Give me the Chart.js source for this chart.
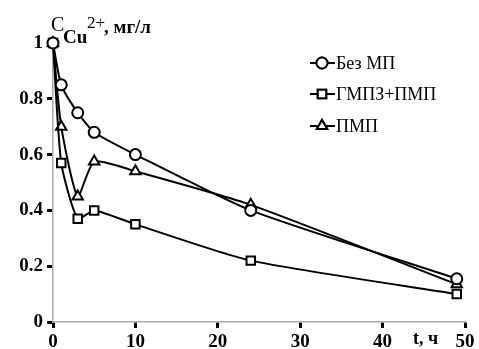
<!DOCTYPE html>
<html>
<head>
<meta charset="utf-8">
<script src="https://cdn.jsdelivr.net/npm/chart.js@4.4.0/dist/chart.umd.min.js"></script>
<style>
  html, body { margin: 0; padding: 0; background: #fff; }
  #wrap { width: 479px; height: 349px; }
</style>
</head>
<body>
<div id="wrap"><canvas id="chart"></canvas></div>
<script>
// time, h
const hours = [0, 1, 3, 5, 10, 24, 49];
// C Cu2+, mg/l
const bezMp = [1.0, 0.85, 0.75, 0.68, 0.60, 0.40, 0.155];
const gmpzPmp = [1.0, 0.57, 0.37, 0.40, 0.35, 0.22, 0.10];
const pmp = [1.0, 0.70, 0.45, 0.575, 0.54, 0.42, 0.135];
const seriesNames = ["Без МП", "ГМПЗ+ПМП", "ПМП"];
const markers = ["circle", "rect", "triangle"];
const yTickLabels = ["0", "0.2", "0.4", "0.6", "0.8", "1"];

const serif = "'Liberation Serif', 'DejaVu Serif', serif";

function toPoints(ys) {
  return hours.map((h, i) => ({ x: h, y: ys[i] }));
}

function makeSet(label, ys, style, radius) {
  return {
    label: label,
    data: toPoints(ys),
    borderColor: "#000",
    borderWidth: 2,
    backgroundColor: "#fff",
    pointStyle: style,
    pointRadius: radius,
    pointBorderWidth: 2,
    pointBorderColor: "#000",
    pointBackgroundColor: "#fff",
    tension: 0.2,
    clip: false,
  };
}

// own legend + axis titles
const extras = {
  id: "extras",
  afterDraw(chart) {
    const ctx = chart.ctx;
    ctx.save();
    ctx.fillStyle = "#000";
    ctx.textBaseline = "alphabetic";

    // y title: C Cu 2+, мг/л
    ctx.font = "20px " + serif;
    ctx.fillText("C", 51, 31);
    ctx.font = "bold 19px " + serif;
    ctx.fillText("Cu", 63, 43);
    ctx.font = "17px " + serif;
    ctx.fillText("2+", 87, 28);
    ctx.font = "bold 19px " + serif;
    ctx.fillText(", мг/л", 104, 33);

    // x title
    ctx.font = "bold 18px " + serif;
    ctx.fillText("t, ч", 413, 344);

    // legend
    const rows = [63, 94, 126];
    chart.data.datasets.forEach((ds, i) => {
      const y = rows[i];
      ctx.strokeStyle = "#000";
      ctx.lineWidth = 2;
      ctx.beginPath();
      ctx.moveTo(310, y);
      ctx.lineTo(335, y);
      ctx.stroke();
      Chart.helpers.drawPoint(ctx, {
        pointStyle: ds.pointStyle,
        radius: ds.pointRadius,
        borderWidth: 2,
      }, 322, y);
      ctx.fillStyle = "#fff";
      ctx.fill();
      ctx.stroke();
      ctx.fillStyle = "#000";
      ctx.font = "18px " + serif;
      ctx.textBaseline = "middle";
      ctx.fillText(ds.label, 336, y + 1);
    });
    ctx.restore();
  },
};

new Chart(document.getElementById("chart"), {
  type: "line",
  data: {
    datasets: [
      makeSet(seriesNames[0], bezMp, markers[0], 5.5),
      makeSet(seriesNames[1], gmpzPmp, markers[1], 6),
      makeSet(seriesNames[2], pmp, markers[2], 6),
    ],
  },
  options: {
    responsive: true,
    maintainAspectRatio: false,
    animation: false,
    layout: { padding: { top: 43, right: 14, left: 0, bottom: 0 } },
    plugins: { legend: { display: false }, tooltip: { enabled: false } },
    scales: {
      x: {
        type: "linear",
        min: 0,
        max: 50,
        ticks: {
          stepSize: 10,
          color: "#000",
          padding: 3,
          font: { family: serif, size: 19, weight: "bold" },
        },
        grid: {
          drawOnChartArea: false,
          tickLength: 6,
          tickWidth: 3,
          tickColor: "#000",
        },
        border: { color: "#aaa", width: 1.5 },
        afterFit(scale) { scale.height = 27; },
      },
      y: {
        min: 0,
        max: 1,
        ticks: {
          stepSize: 0.2,
          color: "#000",
          padding: 4,
          font: { family: serif, size: 19, weight: "bold" },
          callback: (v, i) => yTickLabels[i],
        },
        grid: {
          drawOnChartArea: false,
          tickLength: 6,
          tickWidth: 3,
          tickColor: "#000",
        },
        border: { color: "#aaa", width: 1.5 },
        afterFit(scale) { scale.width = 53; },
      },
    },
  },
  plugins: [extras],
});
</script>
</body>
</html>
